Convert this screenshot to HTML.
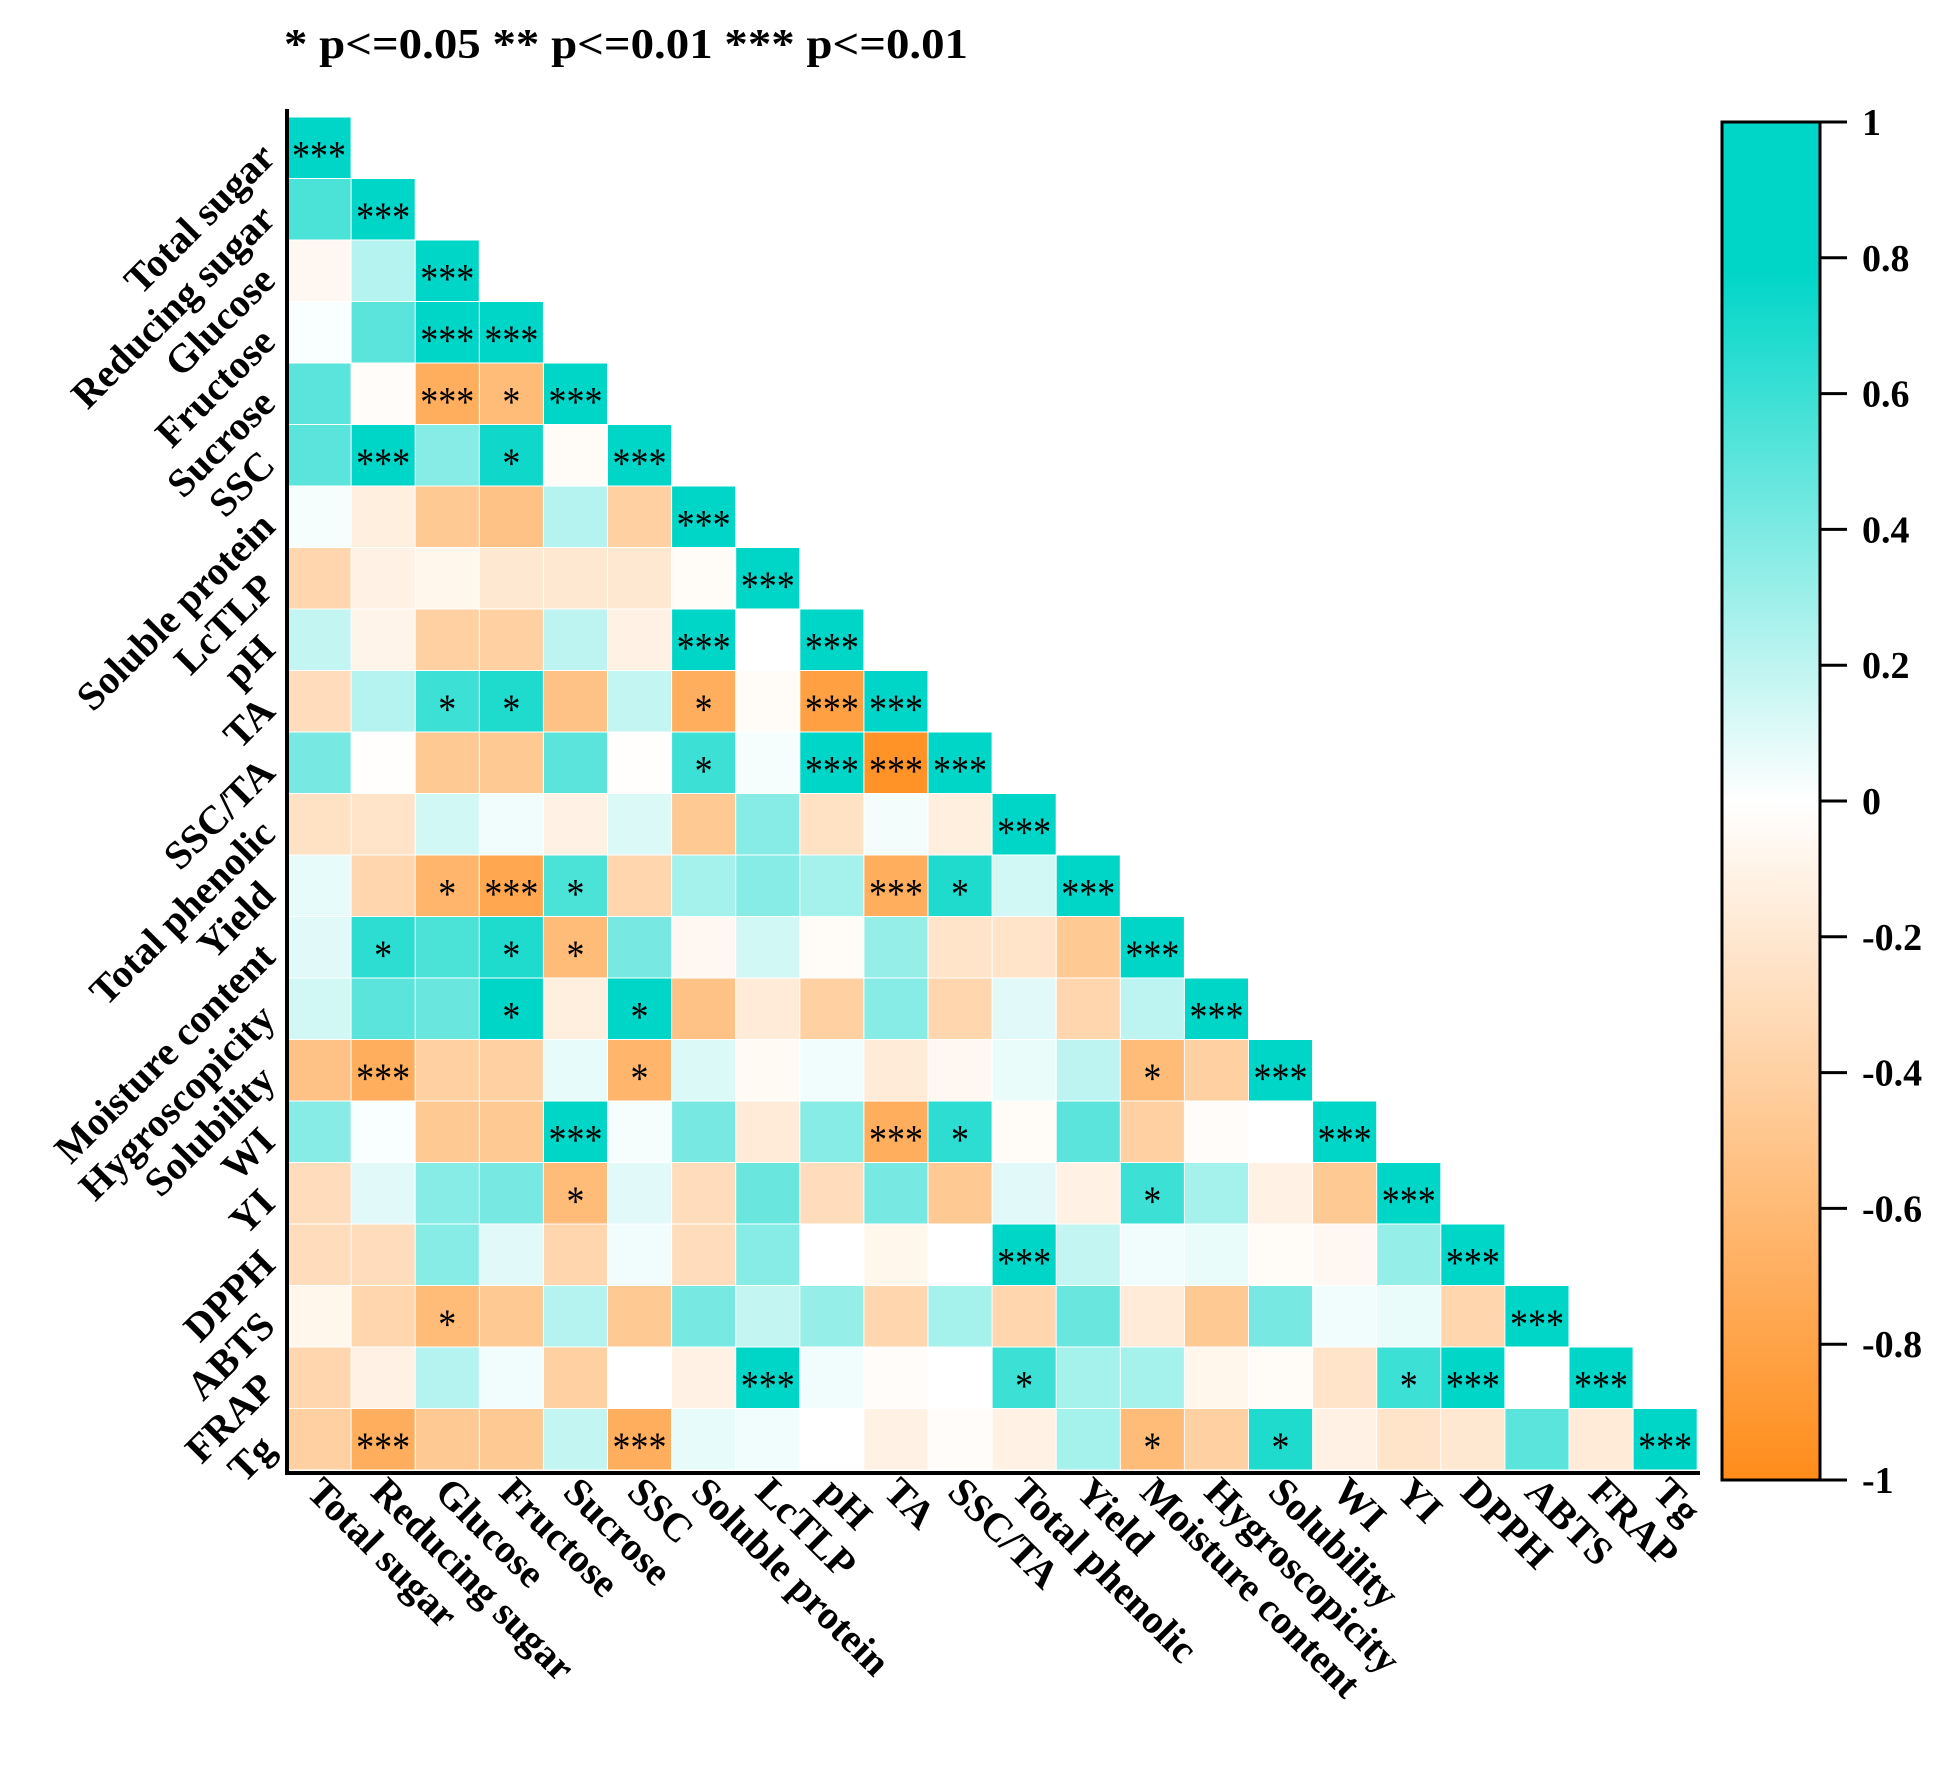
<!DOCTYPE html>
<html><head><meta charset="utf-8"><style>
html,body{margin:0;padding:0;background:#fff;}
svg{display:block;}
text{font-family:"Liberation Serif","Times New Roman",Times,serif;}
</style></head><body>
<svg id="chart" width="1952" height="1766" viewBox="0 0 1952 1766">
<text x="284" y="58" font-size="42" font-weight="bold" textLength="684" lengthAdjust="spacingAndGlyphs" font-family="Liberation Serif, Times New Roman, serif">* p&lt;=0.05  ** p&lt;=0.01  *** p&lt;=0.01</text>
<g id="cells"></g>
<g id="ylabels"></g>
<g id="xlabels"></g>
<line x1="287" y1="109" x2="287" y2="1475" stroke="#000" stroke-width="4"/>
<line x1="285" y1="1473" x2="1700" y2="1473" stroke="#000" stroke-width="4"/>
<defs>
<linearGradient id="cbgrad" x1="0" y1="0" x2="0" y2="1">
<stop offset="0" stop-color="rgb(0,214,200)"/>
<stop offset="0.11" stop-color="rgb(0,214,200)"/>
<stop offset="0.5" stop-color="#ffffff"/>
<stop offset="1" stop-color="rgb(255,140,26)"/>
</linearGradient>
</defs>
<rect x="1722" y="122" width="98" height="1358" fill="url(#cbgrad)" stroke="#000" stroke-width="3"/>
<g id="cbticks"></g>
</svg>
<script>
const labels = ["Total sugar","Reducing sugar","Glucose","Fructose","Sucrose","SSC","Soluble protein","LcTLP","pH","TA","SSC/TA","Total phenolic","Yield","Moisture content","Hygroscopicity","Solubility","WI","YI","DPPH","ABTS","FRAP","Tg"];
const corr = [
[1],
[0.6,1],
[-0.05,0.25,1],
[0.02,0.55,1,1],
[0.55,-0.02,-0.6,-0.5,1],
[0.55,0.9,0.4,0.8,-0.03,1],
[0.03,-0.12,-0.4,-0.45,0.25,-0.35,1],
[-0.3,-0.1,-0.07,-0.17,-0.17,-0.17,-0.03,1],
[0.2,-0.08,-0.35,-0.35,0.22,-0.1,0.95,0,1],
[-0.25,0.25,0.65,0.75,-0.45,0.2,-0.6,-0.03,-0.7,1],
[0.45,-0.01,-0.4,-0.4,0.55,-0.01,0.65,0.03,0.95,-0.8,1],
[-0.22,-0.2,0.15,0.05,-0.1,0.12,-0.4,0.4,-0.22,0.04,-0.12,1],
[0.08,-0.3,-0.55,-0.65,0.6,-0.3,0.3,0.4,0.3,-0.6,0.75,0.15,1],
[0.1,0.7,0.6,0.75,-0.5,0.45,-0.05,0.15,-0.03,0.35,-0.2,-0.2,-0.4,1],
[0.15,0.55,0.5,0.9,-0.12,0.85,-0.45,-0.15,-0.35,0.4,-0.3,0.1,-0.3,0.22,1],
[-0.45,-0.6,-0.35,-0.35,0.08,-0.55,0.12,-0.04,0.05,-0.15,-0.05,0.07,0.22,-0.5,-0.35,1],
[0.4,0.02,-0.4,-0.4,0.95,0.03,0.45,-0.15,0.4,-0.6,0.7,-0.03,0.55,-0.35,-0.02,0,1],
[-0.25,0.1,0.4,0.45,-0.5,0.1,-0.25,0.5,-0.25,0.45,-0.4,0.1,-0.1,0.65,0.3,-0.1,-0.4,1],
[-0.25,-0.25,0.4,0.1,-0.3,0.05,-0.25,0.4,0,-0.07,0,1,0.2,0.05,0.07,-0.03,-0.05,0.35,1],
[-0.07,-0.3,-0.5,-0.4,0.25,-0.4,0.45,0.2,0.35,-0.3,0.3,-0.3,0.5,-0.15,-0.4,0.45,0.05,0.07,-0.3,1],
[-0.3,-0.1,0.25,0.05,-0.35,0,-0.1,1,0.05,-0.02,0,0.65,0.3,0.3,-0.07,-0.03,-0.2,0.65,0.95,0,1],
[-0.35,-0.6,-0.4,-0.4,0.2,-0.6,0.08,0.05,0,-0.1,-0.02,-0.1,0.3,-0.5,-0.35,0.75,-0.1,-0.2,-0.17,0.55,-0.15,1]
];
const sig = [
["***"],
["","***"],
["","","***"],
["","","***","***"],
["","","***","*","***"],
["","***","","*","","***"],
["","","","","","","***"],
["","","","","","","","***"],
["","","","","","","***","","***"],
["","","*","*","","","*","","***","***"],
["","","","","","","*","","***","***","***"],
["","","","","","","","","","","","***"],
["","","*","***","*","","","","","***","*","","***"],
["","*","","*","*","","","","","","","","","***"],
["","","","*","","*","","","","","","","","","***"],
["","***","","","","*","","","","","","","","*","","***"],
["","","","","***","","","","","***","*","","","","","","***"],
["","","","","*","","","","","","","","","*","","","","***"],
["","","","","","","","","","","","***","","","","","","","***"],
["","","*","","","","","","","","","","","","","","","","","***"],
["","","","","","","","***","","","","*","","","","","","*","***","","***"],
["","***","","","","***","","","","","","","","*","","*","","","","","","***"]
];
const cbTicks = [1,0.8,0.6,0.4,0.2,0,-0.2,-0.4,-0.6,-0.8,-1];

const L=287, T=117, CW=64.1, CH=61.5;
const xPos = c => L + c*CW;
const yPos = r => T + r*CH;
const cbY = v => 1480 - (v+1)*679;
function color(v){
  let t=Math.min(1,Math.abs(v)/0.85);
  let c = v>=0 ? [0,214,200] : [255,140,26];
  const m=i=>Math.round(255+(c[i]-255)*t);
  return `rgb(${m(0)},${m(1)},${m(2)})`;
}
const NS="http://www.w3.org/2000/svg";
const FF="Liberation Serif, Times New Roman, serif";
const cells=document.getElementById('cells');
corr.forEach((row,r)=>{
  row.forEach((v,c)=>{
    const rect=document.createElementNS(NS,'rect');
    rect.setAttribute('x',xPos(c)+0.5);
    rect.setAttribute('y',yPos(r)+0.5);
    rect.setAttribute('width',CW-1);
    rect.setAttribute('height',CH-1);
    rect.setAttribute('fill',color(v));
    
    
    cells.appendChild(rect);
    const s=sig[r][c];
    if(s){
      const t=document.createElementNS(NS,'text');
      t.setAttribute('x',xPos(c)+CW/2);
      t.setAttribute('y',yPos(r)+CH/2+22);
      t.setAttribute('text-anchor','middle');
      t.setAttribute('font-size','42');
      t.setAttribute('font-family',FF);
      t.setAttribute('textLength', String(s.length*18));
      t.setAttribute('lengthAdjust','spacingAndGlyphs');
      t.textContent=s;
      
      
      cells.appendChild(t);
    }
  });
});
const yl=document.getElementById('ylabels');
const xl=document.getElementById('xlabels');
labels.forEach((lab,i)=>{
  const ax=L-10, ay=yPos(i)+CH/2+12;
  const t=document.createElementNS(NS,'text');
  t.setAttribute('x',ax);t.setAttribute('y',ay);
  t.setAttribute('text-anchor','end');
  t.setAttribute('font-size','40');t.setAttribute('font-weight','bold');
  t.setAttribute('font-family',FF);
  t.setAttribute('transform',`rotate(-45 ${ax} ${ay})`);
  t.textContent=lab;
  
  
  yl.appendChild(t);
  const bx=xPos(i)+CW/2-14, by=1494;
  const u=document.createElementNS(NS,'text');
  u.setAttribute('x',bx);u.setAttribute('y',by);
  u.setAttribute('font-size','40');u.setAttribute('font-weight','bold');
  u.setAttribute('font-family',FF);
  u.setAttribute('transform',`rotate(45 ${bx} ${by})`);
  u.textContent=lab;
  
  
  xl.appendChild(u);
});
const cb=document.getElementById('cbticks');
cbTicks.forEach(v=>{
  const y=cbY(v);
  const ln=document.createElementNS(NS,'line');
  ln.setAttribute('x1',1820);ln.setAttribute('x2',1847);
  ln.setAttribute('y1',y);ln.setAttribute('y2',y);
  ln.setAttribute('stroke','#000');ln.setAttribute('stroke-width','3');
  
  
  cb.appendChild(ln);
  const t=document.createElementNS(NS,'text');
  t.setAttribute('x',1862);t.setAttribute('y',y+13);
  t.setAttribute('font-size','38');t.setAttribute('font-weight','bold');
  t.setAttribute('font-family',FF);
  t.textContent=String(v);
  
  
  cb.appendChild(t);
});
</script>
</body></html>
